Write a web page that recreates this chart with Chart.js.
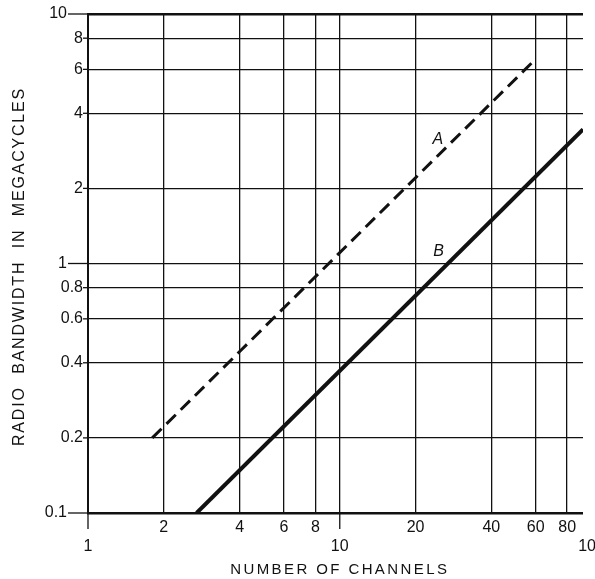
<!DOCTYPE html>
<html>
<head>
<meta charset="utf-8">
<script src="https://cdn.jsdelivr.net/npm/chart.js@4"></script>
<style>
    html, body { margin: 0; padding: 0; background: #fff; }
    #wrap { width: 595px; height: 579px; position: relative; }
</style>
</head>
<body>
<div id="wrap"><canvas id="grafico"></canvas></div>
<script>
// values
const xTickValues = [1, 2, 4, 6, 8, 10, 20, 40, 60, 80, 100];
const xTickLabels = ["1", "2", "4", "6", "8", "10", "20", "40", "60", "80", "100"];
const yTickValues = [0.1, 0.2, 0.4, 0.6, 0.8, 1, 2, 4, 6, 8, 10];
const yTickLabels = ["0.1", "0.2", "0.4", "0.6", "0.8", "1", "2", "4", "6", "8", "10"];

const seriesNames = ["A", "B"];
const channelsA = [1.8, 60];
const bandwidthA = [0.2, 6.6];
const channelsB = [2.7, 92.5];
const bandwidthB = [0.1, 3.45];

const xTitle = "NUMBER OF CHANNELS";
const yTitle = "RADIO  BANDWIDTH  IN  MEGACYCLES";

document.addEventListener("DOMContentLoaded", function() {
    const ink = "#111";
    const numFont = "16px 'Liberation Sans', Arial, sans-serif";
    const decades = [0.1, 1, 10, 100];
    const lowerRow = [1, 10, 100];

    // draws tick labels, tick marks, titles and the A / B letters
    const etiquetas = {
        id: "etiquetas",
        afterDraw(chart) {
            const ctx = chart.ctx;
            const xs = chart.scales.x;
            const ys = chart.scales.y;
            const area = chart.chartArea;
            ctx.save();
            ctx.fillStyle = ink;
            ctx.strokeStyle = ink;
            ctx.font = numFont;
            ctx.textBaseline = "middle";

            // y ticks
            yTickValues.forEach(function(v, i) {
                const py = ys.getPixelForValue(v);
                const big = decades.includes(v);
                ctx.lineWidth = 1.3;
                ctx.beginPath();
                ctx.moveTo(big ? area.left - 20 : area.left - 5, py);
                ctx.lineTo(area.left, py);
                ctx.stroke();
                ctx.textAlign = "right";
                ctx.fillText(yTickLabels[i], big ? area.left - 21 : area.left - 5, py);
            });

            // x ticks, two rows
            xTickValues.forEach(function(v, i) {
                const px = xs.getPixelForValue(v);
                const low = lowerRow.includes(v);
                ctx.textAlign = "center";
                if (low) {
                    if (px <= area.right) {
                        ctx.lineWidth = 1.3;
                        ctx.beginPath();
                        ctx.moveTo(px, area.bottom);
                        ctx.lineTo(px, area.bottom + 16);
                        ctx.stroke();
                    }
                    ctx.fillText(xTickLabels[i], px, area.bottom + 34);
                } else {
                    ctx.fillText(xTickLabels[i], px, area.bottom + 15);
                }
            });

            // axis titles
            ctx.textAlign = "center";
            ctx.font = "15px 'Liberation Sans', Arial, sans-serif";
            ctx.letterSpacing = "2.4px";
            ctx.fillText(xTitle, xs.getPixelForValue(10), area.bottom + 57);
            ctx.font = "16px 'Liberation Sans', Arial, sans-serif";
            ctx.letterSpacing = "1.8px";
            ctx.save();
            ctx.translate(20, ys.getPixelForValue(1) + 3);
            ctx.rotate(-Math.PI / 2);
            ctx.fillText(yTitle, 0, 0);
            ctx.restore();

            // series letters
            ctx.letterSpacing = "0px";
            ctx.font = "italic 16px 'Liberation Sans', Arial, sans-serif";
            const spots = [[24.5, 3.15], [24.7, 1.12]];
            seriesNames.forEach(function(n, i) {
                ctx.fillText(n, xs.getPixelForValue(spots[i][0]), ys.getPixelForValue(spots[i][1]));
            });
            ctx.restore();
        }
    };

    const ctx = document.getElementById("grafico").getContext("2d");
    new Chart(ctx, {
        type: "line",
        data: {
            datasets: [{
                label: seriesNames[0],
                data: channelsA.map(function(c, i) { return { x: c, y: bandwidthA[i] }; }),
                borderColor: ink,
                borderWidth: 3,
                borderDash: [13, 7],
                pointRadius: 0,
                fill: false
            }, {
                label: seriesNames[1],
                data: channelsB.map(function(c, i) { return { x: c, y: bandwidthB[i] }; }),
                borderColor: ink,
                borderWidth: 4,
                pointRadius: 0,
                fill: false
            }]
        },
        options: {
            responsive: true,
            maintainAspectRatio: false,
            animation: false,
            layout: { padding: { left: 88, right: 12, top: 14, bottom: 66 } },
            plugins: {
                legend: { display: false },
                tooltip: { enabled: false }
            },
            scales: {
                x: {
                    type: "logarithmic",
                    min: 1,
                    max: 92.5,
                    afterBuildTicks: function(scale) {
                        scale.ticks = xTickValues.filter(function(v) { return v <= 92.5; })
                            .map(function(v) { return { value: v }; });
                    },
                    ticks: { display: false },
                    grid: {
                        color: ink,
                        lineWidth: function(c) { return c.tick && c.tick.value === 1 ? 0 : 1.3; },
                        drawTicks: false
                    },
                    border: { display: true, color: ink, width: 2.5 }
                },
                y: {
                    type: "logarithmic",
                    min: 0.1,
                    max: 10,
                    afterBuildTicks: function(scale) {
                        scale.ticks = yTickValues.map(function(v) { return { value: v }; });
                    },
                    ticks: { display: false },
                    grid: {
                        color: ink,
                        lineWidth: function(c) {
                            if (!c.tick) return 1.3;
                            if (c.tick.value === 10) return 2.5;
                            if (c.tick.value === 0.1) return 0;
                            return 1.3;
                        },
                        drawTicks: false
                    },
                    border: { display: true, color: ink, width: 2 }
                }
            }
        },
        plugins: [etiquetas]
    });
});
</script>
</body>
</html>
